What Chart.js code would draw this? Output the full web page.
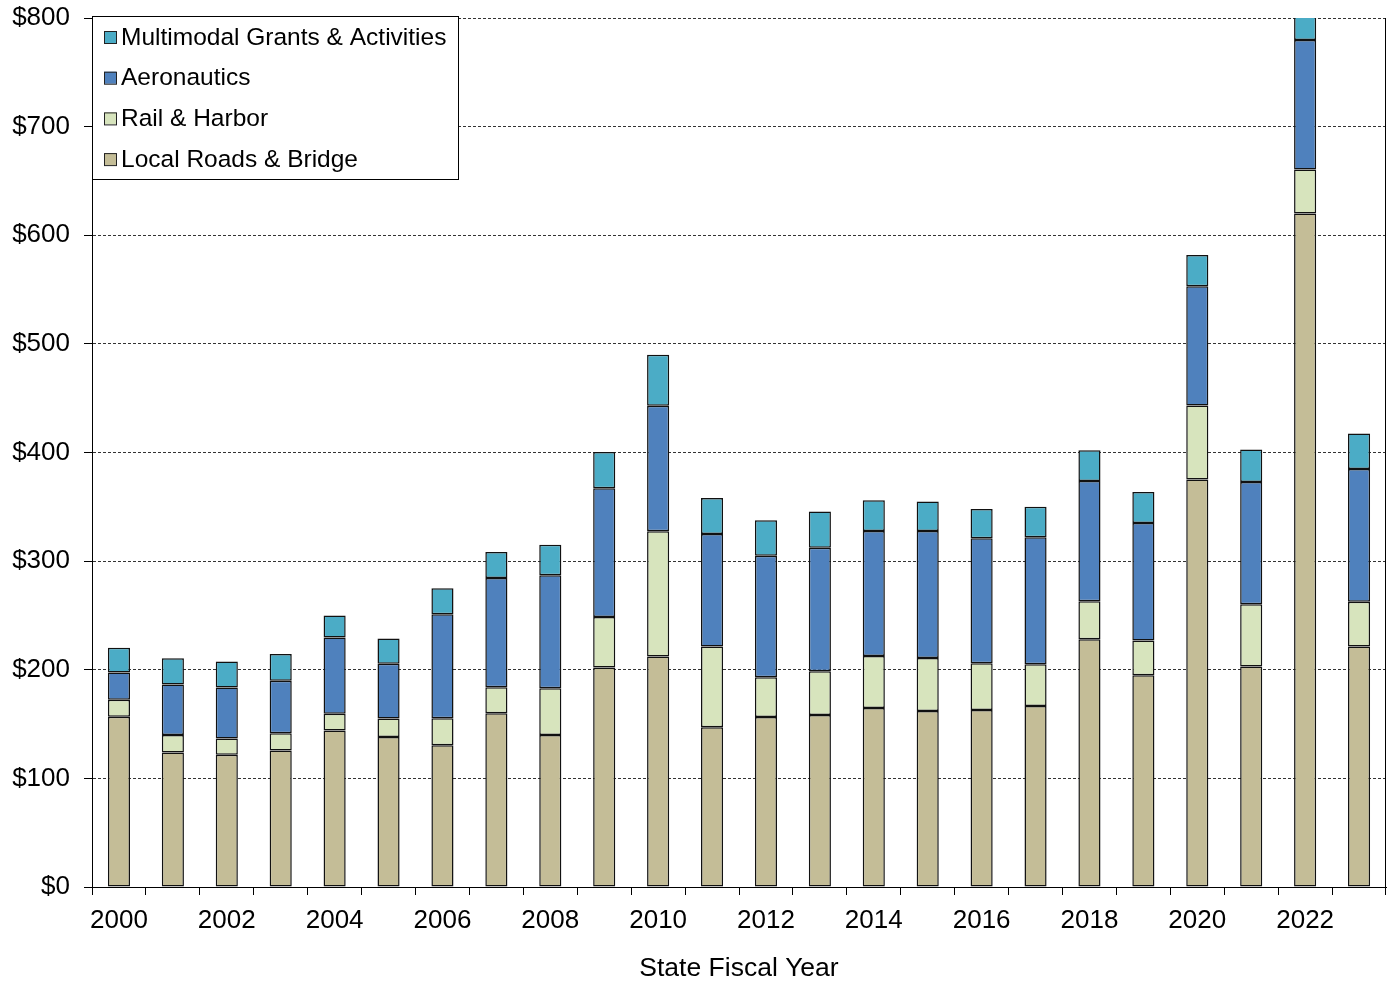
<!DOCTYPE html>
<html>
<head>
<meta charset="utf-8">
<script src="https://cdn.jsdelivr.net/npm/chart.js@4/dist/chart.umd.min.js"></script>
<style>
  html, body { margin: 0; padding: 0; background: #fff; }
  #chart { display: block; }
</style>
</head>
<body>
<canvas id="chart" width="1390" height="985"></canvas>
<script>
// Data
const years = ['2000', '2001', '2002', '2003', '2004', '2005', '2006', '2007', '2008', '2009', '2010', '2011',
  '2012', '2013', '2014', '2015', '2016', '2017', '2018', '2019', '2020', '2021', '2022', '2023'];

const localRoads = [156.7, 123.8, 121.7, 125.6, 144, 138.2, 130.5, 160, 140, 202, 212.3, 147,
  156.5, 158.3, 164.8, 162, 163, 166.6, 228, 195, 375.1, 203, 620, 221.5];
const railHarbor = [15.6, 16.2, 15, 16, 15.4, 16.9, 24.9, 24, 43, 46.5, 115.2, 74.5,
  36.5, 40.4, 47.9, 48.8, 43, 38.4, 35, 32, 68.1, 57.2, 40.5, 41.2];
const aeronautics = [25.2, 46.4, 47, 48.3, 70.4, 50.4, 95.6, 100.5, 104, 118.5, 115.5, 103.5,
  112, 113.7, 115, 116.9, 115, 117, 110.8, 108, 109.8, 112.7, 119.2, 122.2];
const multimodal = [22.8, 24.3, 23.9, 24.5, 20.2, 23.3, 24, 23.9, 28, 33.5, 47, 33,
  32.6, 33.2, 28.3, 27.3, 27, 28, 28.2, 28.6, 28.8, 29.9, 28, 32.6];

const yTicks = [0, 100, 200, 300, 400, 500, 600, 700, 800];

const series = [
  { label: 'Local Roads & Bridge', data: localRoads, color: '#C4BD97' },
  { label: 'Rail & Harbor', data: railHarbor, color: '#D7E4BD' },
  { label: 'Aeronautics', data: aeronautics, color: '#4F81BD' },
  { label: 'Multimodal Grants & Activities', data: multimodal, color: '#4BACC6' }
];

const FONT = '"Liberation Sans", Arial, sans-serif';

// Legend drawn inside the plot, top-left, reversed order
const boxLegend = {
  id: 'boxLegend',
  afterDraw(chart) {
    const ctx = chart.ctx;
    const area = chart.chartArea;
    const x = area.left, y = 16, w = 366, h = 163;
    ctx.save();
    ctx.fillStyle = '#fff';
    ctx.fillRect(x, y, w, h);
    ctx.strokeStyle = '#000';
    ctx.lineWidth = 1;
    ctx.strokeRect(x + 0.5, y + 0.5, w, h);
    ctx.font = '24.5px ' + FONT;
    ctx.textBaseline = 'middle';
    const items = series.slice().reverse();
    items.forEach((s, i) => {
      const cy = 37 + i * 40.7;
      ctx.fillStyle = s.color;
      ctx.fillRect(104, cy - 6, 12, 12);
      ctx.strokeStyle = '#222';
      ctx.lineWidth = 1;
      ctx.strokeRect(104.5, cy - 5.5, 12, 12);
      ctx.fillStyle = '#000';
      ctx.fillText(s.label, 121, cy + 1);
    });
    ctx.restore();
  }
};

// Right-hand frame line
const rightFrame = {
  id: 'rightFrame',
  beforeDatasetsDraw(chart) {
    const ctx = chart.ctx;
    const a = chart.chartArea;
    ctx.save();
    ctx.strokeStyle = '#000';
    ctx.lineWidth = 1;
    ctx.beginPath();
    ctx.moveTo(a.right - 0.5, a.top);
    ctx.lineTo(a.right - 0.5, a.bottom);
    ctx.stroke();
    ctx.restore();
  }
};

function initializeChart() {
  const ctx = document.getElementById('chart').getContext('2d');
  new Chart(ctx, {
    type: 'bar',
    data: {
      labels: years,
      datasets: series.map(s => ({
        label: s.label,
        data: s.data,
        backgroundColor: s.color,
        borderColor: '#111',
        borderWidth: 1.5,
        borderSkipped: false,
        barPercentage: 0.41,
        categoryPercentage: 1,
        clip: 0
      }))
    },
    options: {
      responsive: false,
      animation: false,
      layout: { padding: { top: 18, right: 4, left: 0, bottom: 0 } },
      plugins: {
        legend: { display: false },
        tooltip: { enabled: false }
      },
      scales: {
        x: {
          stacked: true,
          grid: {
            display: true,
            offset: true,
            drawOnChartArea: false,
            tickLength: 8,
            color: '#000'
          },
          border: { color: '#000', width: 1 },
          ticks: {
            autoSkip: false,
            maxRotation: 0,
            padding: 10,
            color: '#000',
            font: { family: FONT, size: 26 },
            callback: (v, i) => (i % 2 === 0 ? years[i] : '')
          },
          title: {
            display: true,
            text: 'State Fiscal Year',
            color: '#000',
            font: { family: FONT, size: 26.5 },
            padding: { top: 4, bottom: 0 }
          },
          afterFit: s => { s.height = 98; s.paddingLeft = 0; s.paddingRight = 0; }
        },
        y: {
          stacked: true,
          min: yTicks[0],
          max: yTicks[yTicks.length - 1],
          afterBuildTicks: s => { s.ticks = yTicks.map(v => ({ value: v })); },
          grid: {
            color: '#333',
            tickColor: '#000',
            tickLength: 8,
            lineWidth: 1
          },
          border: { color: '#000', width: 1, dash: [3, 2] },
          ticks: {
            padding: 14,
            color: '#000',
            font: { family: FONT, size: 26 },
            callback: v => '$' + v
          },
          afterFit: s => { s.width = 92; s.paddingTop = 0; s.paddingBottom = 0; }
        }
      }
    },
    plugins: [rightFrame, boxLegend]
  });
}

document.addEventListener('DOMContentLoaded', initializeChart);
</script>
</body>
</html>
